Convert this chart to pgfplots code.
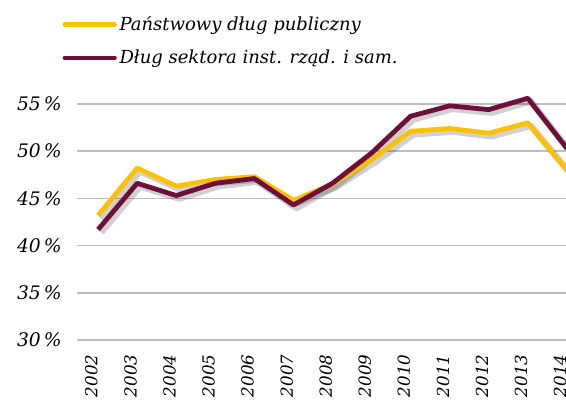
\documentclass[border=0pt]{standalone}
\usepackage{pgfplots}
\pgfplotsset{compat=1.18}
\usepackage{fontspec}
\setmainfont{DejaVu Serif}
\definecolor{gold}{RGB}{255,192,0}
\definecolor{maroon}{RGB}{110,14,58}
\definecolor{gridgray}{RGB}{190,190,190}
\pgfplotstableread{
year pdp edp
2002 43.2 41.7
2003 48.2 46.6
2004 46.3 45.3
2005 47.0 46.6
2006 47.3 47.1
2007 44.8 44.3
2008 46.5 46.6
2009 49.1 49.8
2010 52.1 53.7
2011 52.4 54.8
2012 51.9 54.4
2013 53.0 55.6
2014 48.0 50.3
}\data
\begin{document}
\begin{tikzpicture}
\begin{axis}[
  name=ax,
  scale only axis,
  width=367.4pt, height=191.2pt,
  xmin=2001.46, xmax=2014,
  ymin=30, ymax=57,
  clip=false,
  axis line style={draw=none},
  major tick length=0pt,
  ymajorgrids,
  grid style={gridgray, line width=1.1pt},
  ytick={30,35,...,55},
  xtick={2002,...,2014},
  /pgf/number format/assume math mode=true,
  /pgf/number format/1000 sep={},
  yticklabel={\pgfmathprintnumber{\tick}\,\%},
  yticklabel style={font=\itshape\fontsize{14}{16}\selectfont, xshift=-8pt},
  xticklabel style={font=\itshape\fontsize{12.5}{15}\selectfont, rotate=90, anchor=east, xshift=-7.5pt, yshift=5pt},
  legend style={draw=none, fill=none, at={(axis description cs:-0.03,1.28)}, anchor=north west,
     font=\itshape\fontsize{13.5}{16}\selectfont, row sep=9pt, inner sep=0pt},
  legend cell align=left,
  legend image code/.code={\draw[#1, line cap=round, line width=3.2pt] (0pt,0pt) -- (37.5pt,0pt);},
]
\addplot[forget plot, black, opacity=0.18, line width=5pt, line join=round, xshift=2.2pt, yshift=-2.2pt] table[x=year,y=pdp]{\data};
\addplot[forget plot, black, opacity=0.18, line width=5pt, line join=round, xshift=2.2pt, yshift=-2.2pt] table[x=year,y=edp]{\data};
\addplot[gold, line width=3.6pt, line join=round] table[x=year,y=pdp]{\data};
\addplot[maroon, line width=3.6pt, line join=round] table[x=year,y=edp]{\data};
\legend{Państwowy dług publiczny, Dług sektora inst. rząd. i sam.}
\end{axis}
\pgfresetboundingbox
\path[use as bounding box] ([shift={(-57.75pt,-49.5pt)}]ax.south west) rectangle ([shift={(366.75pt,255pt)}]ax.south west);
\end{tikzpicture}
\end{document}
